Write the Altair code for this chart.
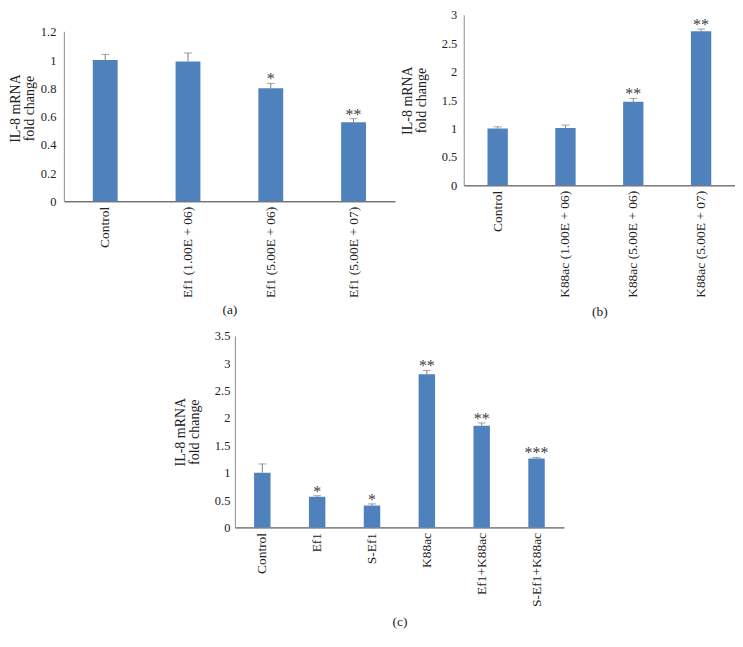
import altair as alt
import pandas as pd

# ---- data ----
a_labels = ["Control", "Ef1 (1.00E + 06)", "Ef1 (5.00E + 06)", "Ef1 (5.00E + 07)"]
a_values = [1.0, 0.99, 0.80, 0.56]
a_errors = [0.04, 0.06, 0.035, 0.025]
a_marks = ["", "", "*", "**"]
a_ticks = [0, 0.2, 0.4, 0.6, 0.8, 1, 1.2]

b_labels = ["Control", "K88ac (1.00E + 06)", "K88ac (5.00E + 06)", "K88ac (5.00E + 07)"]
b_values = [1.0, 1.01, 1.47, 2.71]
b_errors = [0.03, 0.05, 0.06, 0.04]
b_marks = ["", "", "**", "**"]
b_ticks = [0, 0.5, 1, 1.5, 2, 2.5, 3]

c_labels = ["Control", "Ef1", "S-Ef1", "K88ac", "Ef1+K88ac", "S-Ef1+K88ac"]
c_values = [1.0, 0.56, 0.40, 2.80, 1.86, 1.26]
c_errors = [0.16, 0.02, 0.03, 0.07, 0.05, 0.02]
c_marks = ["", "*", "*", "**", "**", "***"]
c_ticks = [0, 0.5, 1, 1.5, 2, 2.5, 3, 3.5]

y_title = ["IL-8 mRNA", "fold change"]

FONT = "Liberation Serif"
BAR = "#4F81BD"
ERR = "#7f7f7f"
TXT = "#222222"
YDOM = "#8c8c8c"


def panel(labels, values, errors, marks, ticks, caption, width, height,
          label_pad, title_pad, view_top=None, cap_pad=10):
    df = pd.DataFrame({"cat": labels, "val": values, "err": errors, "sig": marks})
    df["top"] = df["val"] + df["err"]
    custom_domain = view_top is not None
    dom_max = view_top if custom_domain else ticks[-1]

    xenc = alt.X(
        "cat:N", sort=labels,
        scale=alt.Scale(paddingInner=0.7, paddingOuter=0.35),
        axis=alt.Axis(
            title=caption, labelAngle=270, labelFont=FONT, labelFontSize=13.5,
            labelColor=TXT, labelPadding=5, labelLimit=0, ticks=False,
            domainColor="#333333", titleFont=FONT, titleFontSize=13.5,
            titleFontWeight="normal", titleColor=TXT, titlePadding=cap_pad,
        ),
    )
    yscale = alt.Scale(domain=[0, dom_max], nice=False, zero=True)
    yaxis = alt.Axis(
        values=ticks, labelExpr="'' + datum.value", grid=False, ticks=False,
        domain=not custom_domain, domainColor=YDOM,
        labelFont=FONT, labelFontSize=12.5, labelColor=TXT,
        labelPadding=label_pad, title=y_title, titleFont=FONT, titleFontSize=14,
        titleFontWeight="normal", titleColor=TXT, titlePadding=title_pad,
        titleLineHeight=14,
    )
    base = alt.Chart(df).encode(x=xenc)
    bars = base.mark_bar(color=BAR).encode(
        y=alt.Y("val:Q", scale=yscale, axis=yaxis))
    rule = base.mark_rule(color=ERR, strokeWidth=1).encode(
        y=alt.Y("val:Q", scale=yscale, axis=yaxis), y2="top:Q")
    cap = base.mark_tick(color=ERR, size=8, thickness=1, orient="horizontal").encode(
        y=alt.Y("top:Q", scale=yscale, axis=yaxis))
    txt = base.mark_text(font=FONT, fontSize=16, color="#404040",
                         baseline="alphabetic", dy=1).encode(
        y=alt.Y("top:Q", scale=yscale, axis=yaxis), text="sig:N")
    layers = [bars, rule, cap, txt]
    if custom_domain:
        ddf = pd.DataFrame({"lo": [ticks[0]], "hi": [ticks[-1]]})
        axis_line = alt.Chart(ddf).mark_rule(color=YDOM, strokeWidth=1).encode(
            x=alt.value(0.5),
            y=alt.Y("lo:Q", scale=yscale, axis=yaxis), y2="hi:Q")
        layers.append(axis_line)
    return alt.layer(*layers).properties(width=width, height=height)


# panel (a) sits lower than (b): its view is extended upward beyond 1.2
pa = panel(a_labels, a_values, a_errors, a_marks, a_ticks, "(a)", 332, 187, 8, 4,
           view_top=1.2 * 187 / 170, cap_pad=5)
pb = panel(b_labels, b_values, b_errors, b_marks, b_ticks, "(b)", 272, 171, 7, 13,
           cap_pad=7)
pc = panel(c_labels, c_values, c_errors, c_marks, c_ticks, "(c)", 330, 192, 5, 13,
           cap_pad=8)

top = alt.hconcat(pa, pb, spacing=5)

chart = alt.vconcat(top, pc, spacing=12, center=True).properties(
    padding=0, background="white"
).configure_view(stroke=None)

chart.save("out.html", embed_options={"renderer": "svg", "actions": False})
